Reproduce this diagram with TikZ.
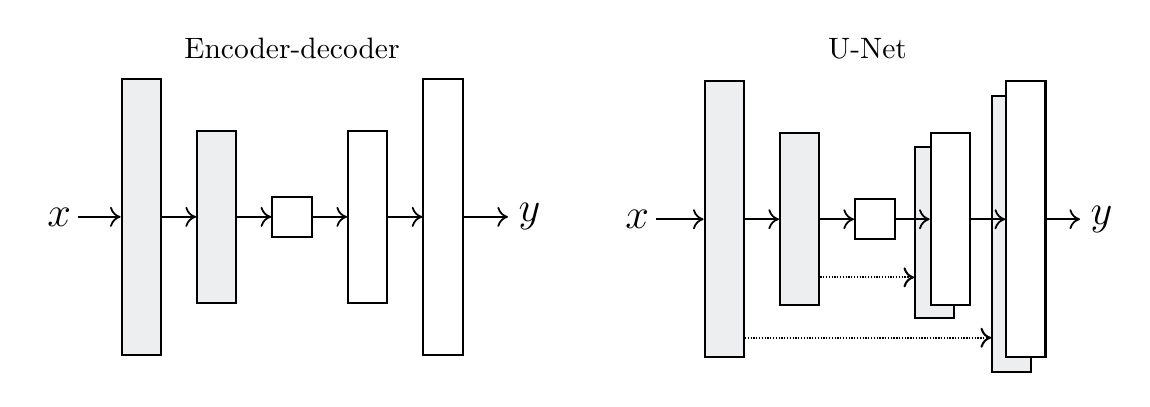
\documentclass[tikz,border=0pt]{standalone}
\usepackage{amsmath,amssymb}
\usepackage{tikz}
\usetikzlibrary{arrows.meta,positioning,calc}
\tikzset{
  layer/.style={draw, line width=0.7pt, inner sep=0pt, minimum width=0.468cm},
  tallbox/.style={layer, minimum height=3.287cm},
  midbox/.style={layer, minimum height=2.047cm},
  smallbox/.style={layer, minimum width=0.477cm, minimum height=0.475cm},
  encfill/.style={fill=blockgray},
  flowln/.style={-{To[length=3.6pt,width=6.8pt]}, line width=0.6pt},
  skipln/.style={flowln, line width=0.7pt, dash pattern=on 0.45pt off 0.5pt},
  varlbl/.style={font=\fontsize{15.5}{18}\selectfont, inner sep=2.2pt},
}
\definecolor{blockgray}{RGB}{237,238,240}

\begin{document}
\begin{tikzpicture}
  \useasboundingbox (0,0) rectangle (13.708,4.840);
  % encoder-decoder
  \node at (3.481,4.148) [anchor=base] (ttlA) {Encoder-decoder};
  \node[tallbox, encfill] (e1) at (1.684,2.255) {};
  \node[midbox, encfill] (e2) at (2.583,2.255) {};
  \node[smallbox] (e3) at (3.484,2.255) {};
  \node[midbox] (e4) at (4.383,2.255) {};
  \node[tallbox] (e5) at (5.281,2.255) {};
  \node[varlbl, anchor=east] (ex) at (0.930,2.255) {$x$};
  \node[varlbl, anchor=west, inner xsep=3.4pt] (ey) at (6.055,2.255) {$y$};
  \draw[flowln] (ex) -- (e1);
  \draw[flowln] (e1) -- (e2);
  \draw[flowln] (e2) -- (e3);
  \draw[flowln] (e3) -- (e4);
  \draw[flowln] (e4) -- (e5);
  \draw[flowln] (e5) -- (e5 -| ey.west);
  % u-net
  \node at (10.341,4.148) [anchor=base] (ttlB) {U-Net};
  \node[tallbox, encfill] (u1) at (8.633,2.227) {};
  \node[midbox, encfill] (u2) at (9.532,2.227) {};
  \node[smallbox] (u3) at (10.430,2.227) {};
  \node[midbox, encfill] (u4b) at (11.142,2.068) {};
  \node[midbox, fill=white] (u4) at (11.328,2.227) {};
  \node[tallbox, encfill] (u5b) at (12.060,2.053) {};
  \node[tallbox, fill=white] (u5) at (12.228,2.227) {};
  \node[varlbl, anchor=east] (ux) at (7.820,2.227) {$x$};
  \node[varlbl, anchor=west, inner xsep=3.4pt] (uy) at (12.874,2.227) {$y$};
  \draw[flowln] (ux) -- (u1);
  \draw[flowln] (u1) -- (u2);
  \draw[flowln] (u2) -- (u3);
  \draw[flowln] (u3) -- (u4);
  \draw[flowln] (u4) -- (u5);
  \draw[flowln] (u5) -- (u5 -| uy.west);
  % skip connections
  \draw[skipln] ([yshift=-0.693cm]u2.east) -- ([yshift=-0.693cm]u2.east -| u4b.west);
  \draw[skipln] ([yshift=-1.413cm]u1.east) -- ([yshift=-1.413cm]u1.east -| u5b.west);
\end{tikzpicture}
\end{document}
